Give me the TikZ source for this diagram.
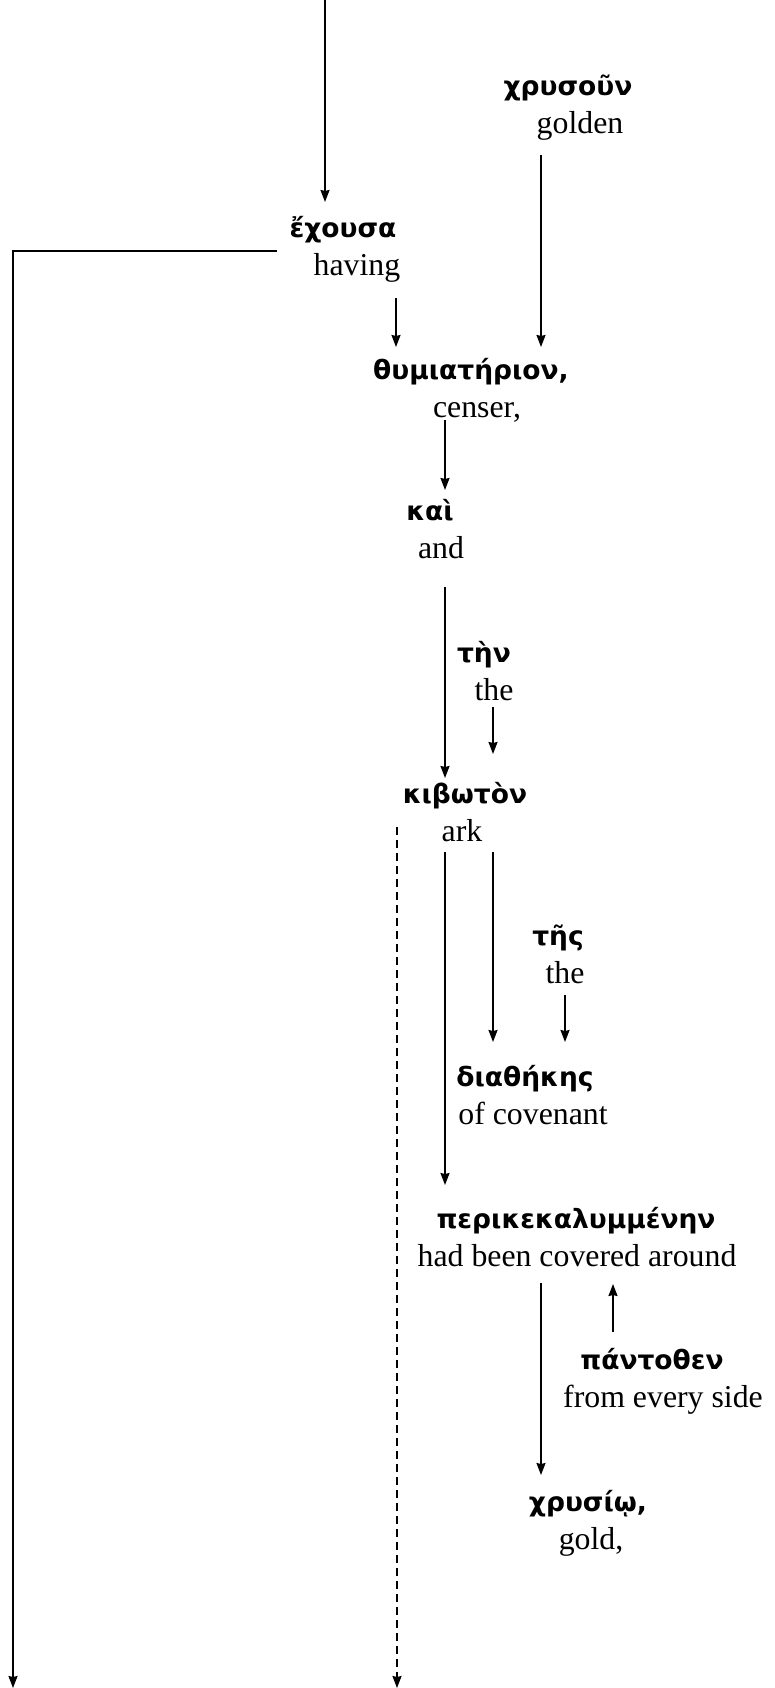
\documentclass[tikz,border=0pt]{standalone}
\usepackage{fontspec}
\setmainfont{Liberation Serif}
\newfontfamily\grkfont{DejaVu Sans}
\usetikzlibrary{arrows.meta}
\begin{document}
\begin{tikzpicture}[x=1pt,y=-1pt,
  eng/.style={anchor=base, inner sep=0pt, font=\fontsize{31.8}{38}\selectfont},
  grk/.style={anchor=base, inner sep=0pt, font=\fontsize{26.5}{32}\selectfont\grkfont\bfseries},
  arr/.style={line width=1.6pt, -{Stealth[length=12pt,width=9pt,inset=1pt]}},
  dsh/.style={arr, dash pattern=on 8pt off 5pt}]
\useasboundingbox (0,0) rectangle (775,1688);
% Greek words
\node[grk] (gchr)   at (568,96)     {χρυσοῦν};
\node[grk] (gek)    at (343,237.5)  {ἔχουσα};
\node[grk] (gthy)   at (471,379)    {θυμιατήριον,};
\node[grk] (gkai)   at (430,520.5)  {καὶ};
\node[grk] (gten)   at (484,662)    {τὴν};
\node[grk] (gkib)   at (465,803.5)  {κιβωτὸν};
\node[grk] (gtes)   at (558,945)    {τῆς};
\node[grk] (gdia)   at (525,1086.5) {διαθήκης};
\node[grk] (gperi)  at (576,1228)   {περικεκαλυμμένην};
\node[grk] (gpant)  at (652,1369.5) {πάντοθεν};
\node[grk] (gchrys) at (588,1511)   {χρυσίῳ,};
% English glosses
\node[eng] (golden) at (580,134)    {golden};
\node[eng] (having) at (357,275.5)  {having};
\node[eng] (censer) at (477,417)    {censer,};
\node[eng] (and)    at (441,558.5)  {and};
\node[eng] (theA)   at (494,700)    {the};
\node[eng] (ark)    at (462,841.5)  {ark};
\node[eng] (theB)   at (565,983)    {the};
\node[eng] (ofcov)  at (533,1124.5) {of covenant};
\node[eng] (had)    at (577,1266)   {had been covered around};
\node[eng] (from)   at (663,1407.5) {from every side};
\node[eng] (gold)   at (591,1549)   {gold,};
% free ends
\coordinate (topin) at (325,0);
\coordinate (lend)  at (13,1688);
\coordinate (dend)  at (397,1688);
% connectors
\draw[arr] (topin) -- ([xshift=-18pt,yshift=35.5pt]gek.base);
\draw[arr] ([xshift=-39pt,yshift=-21pt]golden.base) -- ([xshift=70pt,yshift=32pt]gthy.base);
\draw[arr] ([xshift=39pt,yshift=-22.5pt]having.base) -- ([xshift=-75pt,yshift=32pt]gthy.base);
\draw[arr] ([xshift=-32pt,yshift=-3pt]censer.base) -- ([xshift=15pt,yshift=30.5pt]gkai.base);
\draw[arr] ([xshift=4pt,yshift=-28.5pt]and.base) -- ([xshift=-20pt,yshift=25.5pt]gkib.base);
\draw[arr] ([xshift=-1pt,yshift=-7pt]theA.base) -- ([xshift=28pt,yshift=49.5pt]gkib.base);
\draw[arr] ([xshift=-17pt,yshift=-10.5pt]ark.base) -- ([xshift=-131pt,yshift=43pt]gperi.base);
\draw[arr] ([xshift=31pt,yshift=-10.5pt]ark.base) -- ([xshift=-32pt,yshift=44.5pt]gdia.base);
\draw[arr] ([xshift=0pt,yshift=-12pt]theB.base) -- ([xshift=40pt,yshift=44.5pt]gdia.base);
\draw[arr] ([xshift=-36pt,yshift=-17pt]had.base) -- ([xshift=-47pt,yshift=36pt]gchrys.base);
\draw[arr] ([xshift=-39pt,yshift=37.5pt]gpant.base) -- ([xshift=36pt,yshift=-18pt]had.base);
\draw[arr] ([xshift=-66pt,yshift=-13.5pt]gek.base) -| (lend);
\draw[dsh] ([xshift=-68pt,yshift=-23.5pt]gkib.base) -- (dend);
\end{tikzpicture}
\end{document}
